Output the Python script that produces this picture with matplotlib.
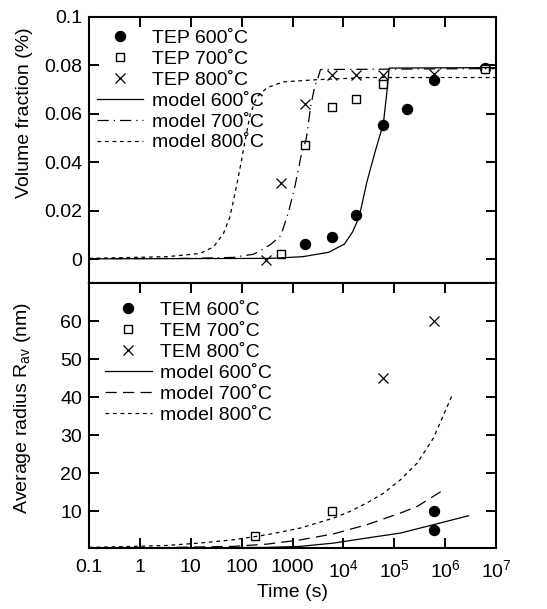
import numpy as np
import matplotlib.pyplot as plt

plt.rcParams['font.family'] = ['Liberation Sans', 'DejaVu Sans']
plt.rcParams['mathtext.fontset'] = 'custom'
plt.rcParams['mathtext.rm'] = 'Liberation Sans'
plt.rcParams['mathtext.it'] = 'Liberation Sans:italic'
plt.rcParams['mathtext.default'] = 'regular'

# --- TEP data (volume fraction, %) ---
t_tep600 = [1800, 6000, 18000, 60000, 180000, 600000, 6000000]
f_tep600 = [0.0062, 0.0091, 0.0182, 0.0555, 0.0620, 0.0740, 0.0788]
t_tep700 = [600, 1800, 6000, 18000, 60000, 6000000]
f_tep700 = [0.0023, 0.0472, 0.0630, 0.0662, 0.0723, 0.0786]
t_tep800 = [300, 600, 1800, 6000, 18000, 60000, 600000]
f_tep800 = [-0.0004, 0.0316, 0.0642, 0.0759, 0.0759, 0.0759, 0.0763]

# model curves (volume fraction)
t_mf600 = [0.1, 380, 1585, 5129, 10470, 15140, 18200, 21380, 28840, 41690, 60950, 70790, 79430, 1e7]
f_mf600 = [0.0001, 0.0003, 0.001, 0.0028, 0.0062, 0.0112, 0.0150, 0.0193, 0.0317, 0.0441, 0.0559,
           0.0680, 0.0789, 0.0791]
t_mf700 = [0.1, 10, 69, 89, 170, 214, 380, 589, 832, 1122, 1479, 1862, 2291, 2754, 3090, 3548, 1e7]
f_mf700 = [0.0002, 0.0003, 0.0007, 0.0011, 0.002, 0.003, 0.0062, 0.0097, 0.0193, 0.0303, 0.0428, 0.0497,
           0.0634, 0.0717, 0.074, 0.0783, 0.0787]
t_mf800 = [0.1, 3.4, 15, 28, 44, 59, 79, 100, 117, 148, 200, 316, 660, 3000, 30000, 1e7]
f_mf800 = [0.0003, 0.001, 0.0023, 0.005, 0.0106, 0.0175, 0.030, 0.041, 0.049, 0.060, 0.067, 0.0708,
           0.0732, 0.0741, 0.075, 0.075]

# --- TEM data (average radius, nm) ---
t_tem600 = [600000, 600000]
r_tem600 = [10.0, 5.0]
t_tem700 = [180, 6000]
r_tem700 = [3.6, 10.0]
t_tem800 = [60000, 600000]
r_tem800 = [45.0, 60.0]

# model curves (radius)
t_mr600 = [0.1, 316, 1413, 6457, 28840, 131800, 588800, 2884000]
r_mr600 = [0.35, 0.53, 0.8, 1.67, 3.0, 4.3, 6.5, 8.86]
t_mr700 = [0.1, 3.4, 69, 316, 1413, 6457, 28840, 131800, 281800, 1000000]
r_mr700 = [0.35, 0.5, 0.8, 1.4, 2.5, 4.1, 6.5, 9.56, 11.3, 15.9]
t_mr800 = [0.1, 0.74, 3.4, 15, 69, 316, 1413, 6457, 13490, 28840, 61660, 131800, 281800, 588800, 1349000]
r_mr800 = [0.53, 0.79, 1.05, 1.67, 2.54, 3.86, 5.61, 8.25, 10.0, 12.2, 14.8, 18.3, 22.7, 29.3, 40.3]

x_ticks = [0.1, 1, 10, 100, 1000, 1e4, 1e5, 1e6, 1e7]
x_labels = ['0.1', '1', '10', '100', '1000', '$10^{4}$', '$10^{5}$', '$10^{6}$', '$10^{7}$']

fs = 14
fig = plt.figure(figsize=(5.47, 6.09), dpi=100)
ax1 = fig.add_axes([0.1627, 0.5348, 0.7441, 0.4373])
ax2 = fig.add_axes([0.1627, 0.0997, 0.7441, 0.4351])

mk = dict(linestyle='none', color='black')
for ax in (ax1, ax2):
    ax.set_xscale('log')
    ax.set_xlim(0.1, 1e7)
    ax.set_xticks(x_ticks)
    ax.minorticks_off()
    ax.tick_params(direction='in', length=7, width=1.4, labelsize=fs,
                   top=True, right=True)
    ax.tick_params(axis='x', pad=8)
    ax.tick_params(axis='y', pad=5)
    for s in ax.spines.values():
        s.set_linewidth(1.5)

leg_kw = dict(loc='upper left', frameon=False, fontsize=fs, borderpad=0, borderaxespad=0,
              handlelength=2.4, handletextpad=0.43, labelspacing=0.17, numpoints=1)

# top panel
ax1.plot(t_tep600, f_tep600, 'o', ms=7.2, label='TEP 600˚C', **mk)
ax1.plot(t_tep700, f_tep700, 's', ms=5.8, mfc='white', mew=1.0, label='TEP 700˚C', **mk)
ax1.plot(t_tep800, f_tep800, 'x', ms=6.8, mew=0.9, label='TEP 800˚C', **mk)
ax1.plot(t_mf600, f_mf600, '-', color='black', lw=0.9, label='model 600˚C')
ax1.plot(t_mf700, f_mf700, color='black', lw=0.9, dashes=(9, 4, 1, 4), label='model 700˚C')
ax1.plot(t_mf800, f_mf800, color='black', lw=0.9, dashes=(3, 3), label='model 800˚C')
ax1.set_ylim(-0.01, 0.1)
ax1.set_yticks([0, 0.02, 0.04, 0.06, 0.08, 0.1])
ax1.set_yticklabels(['0', '0.02', '0.04', '0.06', '0.08', '0.1'])
ax1.tick_params(axis='x', bottom=False, labelbottom=False)
ax1.set_ylabel('Volume fraction (%)', fontsize=fs)
ax1.yaxis.set_label_coords(-0.138, 0.641)
ax1.legend(bbox_to_anchor=(0.019, 0.954), **leg_kw)

# bottom panel
ax2.plot(t_tem600, r_tem600, 'o', ms=7.2, label='TEM 600˚C', **mk)
ax2.plot(t_tem700, r_tem700, 's', ms=5.8, mfc='white', mew=1.0, label='TEM 700˚C', **mk)
ax2.plot(t_tem800, r_tem800, 'x', ms=6.8, mew=0.9, label='TEM 800˚C', **mk)
ax2.plot(t_mr600, r_mr600, '-', color='black', lw=0.9, label='model 600˚C')
ax2.plot(t_mr700, r_mr700, color='black', lw=0.9, dashes=(9, 5), label='model 700˚C')
ax2.plot(t_mr800, r_mr800, color='black', lw=0.9, dashes=(3, 3), label='model 800˚C')
ax2.set_ylim(0.3, 70)
ax2.set_yticks([10, 20, 30, 40, 50, 60])
ax2.set_xticklabels(x_labels)
ax2.set_xlabel('Time (s)', fontsize=fs, labelpad=2)
ax2.set_ylabel('Average radius R$_{av}$ (nm)', fontsize=fs)
ax2.yaxis.set_label_coords(-0.138, 0.529)
ax2.legend(bbox_to_anchor=(0.039, 0.931), **leg_kw)

fig.savefig('out.png', dpi=100)
